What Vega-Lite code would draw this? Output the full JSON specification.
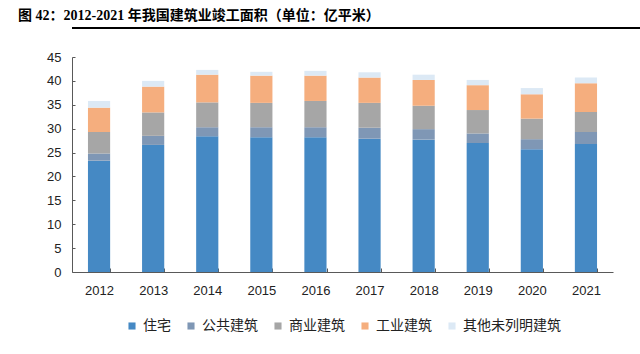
{
  "$schema": "https://vega.github.io/schema/vega-lite/v6.json",
  "padding": {"left": 18, "top": 9, "right": 0, "bottom": 0},
  "background": "white",
  "title": {
    "text": "图 42：2012-2021 年我国建筑业竣工面积（单位：亿平米）",
    "anchor": "start",
    "font": "Liberation Serif, Noto Sans CJK SC",
    "fontSize": 14,
    "fontWeight": "bold",
    "color": "#000000",
    "offset": -14
  },
  "align": "none",
  "bounds": "full",
  "spacing": 22,
  "config": {
    "font": "Liberation Sans, Noto Sans CJK SC"
  },
  "vconcat": [
    {
      "width": 622,
      "height": 19,
      "data": {"values": [{}]},
      "mark": {"type": "rule", "color": "#000000", "strokeWidth": 2},
      "encoding": {
        "y": {"datum": 0, "type": "quantitative", "scale": {"domain": [0, 1]}, "axis": null}
      },
      "view": {"stroke": null}
    },
    {
      "width": 541,
      "height": 215,
      "view": {"stroke": null},
      "data": {
        "values": [
          {"year": "2012", "type": "住宅", "value": 23.3},
          {"year": "2012", "type": "公共建筑", "value": 1.5},
          {"year": "2012", "type": "商业建筑", "value": 4.5},
          {"year": "2012", "type": "工业建筑", "value": 5.1},
          {"year": "2012", "type": "其他未列明建筑", "value": 1.4},
          {"year": "2013", "type": "住宅", "value": 26.6},
          {"year": "2013", "type": "公共建筑", "value": 1.9},
          {"year": "2013", "type": "商业建筑", "value": 4.9},
          {"year": "2013", "type": "工业建筑", "value": 5.4},
          {"year": "2013", "type": "其他未列明建筑", "value": 1.2},
          {"year": "2014", "type": "住宅", "value": 28.4},
          {"year": "2014", "type": "公共建筑", "value": 1.9},
          {"year": "2014", "type": "商业建筑", "value": 5.2},
          {"year": "2014", "type": "工业建筑", "value": 5.8},
          {"year": "2014", "type": "其他未列明建筑", "value": 1.0},
          {"year": "2015", "type": "住宅", "value": 28.2},
          {"year": "2015", "type": "公共建筑", "value": 2.1},
          {"year": "2015", "type": "商业建筑", "value": 5.1},
          {"year": "2015", "type": "工业建筑", "value": 5.7},
          {"year": "2015", "type": "其他未列明建筑", "value": 0.8},
          {"year": "2016", "type": "住宅", "value": 28.2},
          {"year": "2016", "type": "公共建筑", "value": 2.1},
          {"year": "2016", "type": "商业建筑", "value": 5.5},
          {"year": "2016", "type": "工业建筑", "value": 5.3},
          {"year": "2016", "type": "其他未列明建筑", "value": 1.0},
          {"year": "2017", "type": "住宅", "value": 27.9},
          {"year": "2017", "type": "公共建筑", "value": 2.3},
          {"year": "2017", "type": "商业建筑", "value": 5.2},
          {"year": "2017", "type": "工业建筑", "value": 5.3},
          {"year": "2017", "type": "其他未列明建筑", "value": 1.1},
          {"year": "2018", "type": "住宅", "value": 27.7},
          {"year": "2018", "type": "公共建筑", "value": 2.2},
          {"year": "2018", "type": "商业建筑", "value": 4.9},
          {"year": "2018", "type": "工业建筑", "value": 5.4},
          {"year": "2018", "type": "其他未列明建筑", "value": 1.1},
          {"year": "2019", "type": "住宅", "value": 27.0},
          {"year": "2019", "type": "公共建筑", "value": 2.0},
          {"year": "2019", "type": "商业建筑", "value": 4.9},
          {"year": "2019", "type": "工业建筑", "value": 5.2},
          {"year": "2019", "type": "其他未列明建筑", "value": 1.1},
          {"year": "2020", "type": "住宅", "value": 25.7},
          {"year": "2020", "type": "公共建筑", "value": 2.1},
          {"year": "2020", "type": "商业建筑", "value": 4.3},
          {"year": "2020", "type": "工业建筑", "value": 5.1},
          {"year": "2020", "type": "其他未列明建筑", "value": 1.3},
          {"year": "2021", "type": "住宅", "value": 26.8},
          {"year": "2021", "type": "公共建筑", "value": 2.5},
          {"year": "2021", "type": "商业建筑", "value": 4.2},
          {"year": "2021", "type": "工业建筑", "value": 6.0},
          {"year": "2021", "type": "其他未列明建筑", "value": 1.2}
        ]
      },
      "transform": [
        {"calculate": "indexof(['住宅', '公共建筑', '商业建筑', '工业建筑', '其他未列明建筑'], datum.type)", "as": "stackOrder"}
      ],
      "mark": {"type": "bar"},
      "encoding": {
        "x": {
          "field": "year",
          "type": "ordinal",
          "scale": {"paddingInner": 0.59, "paddingOuter": 0.295},
          "axis": {
            "title": null,
            "labelAngle": 0,
            "labelFontSize": 13,
            "labelColor": "#222222",
            "labelPadding": 16,
            "domainColor": "#595959",
            "tickColor": "#595959",
            "tickBand": "extent",
            "tickSize": -4,
            "grid": false
          }
        },
        "y": {
          "field": "value",
          "type": "quantitative",
          "stack": "zero",
          "scale": {"domain": [0, 45], "nice": false},
          "axis": {
            "title": null,
            "values": [0, 5, 10, 15, 20, 25, 30, 35, 40, 45],
            "labelFontSize": 13,
            "labelColor": "#222222",
            "labelPadding": 14,
            "domainColor": "#595959",
            "tickColor": "#595959",
            "tickSize": -3,
            "grid": false,
            "minExtent": 54,
            "maxExtent": 54
          }
        },
        "order": {"field": "stackOrder", "type": "quantitative", "sort": "ascending"},
        "color": {
          "field": "type",
          "type": "nominal",
          "sort": ["住宅", "公共建筑", "商业建筑", "工业建筑", "其他未列明建筑"],
          "scale": {
            "domain": ["住宅", "公共建筑", "商业建筑", "工业建筑", "其他未列明建筑"],
            "range": ["#4589c4", "#7f97b5", "#a6a6a6", "#f5ae7e", "#dce9f5"]
          },
          "legend": {
            "title": null,
            "orient": "none",
            "legendX": 53,
            "legendY": 310,
            "direction": "horizontal",
            "symbolType": "square",
            "symbolSize": 50,
            "symbolStrokeWidth": 0,
            "labelFontSize": 14,
            "labelColor": "#222222",
            "columnPadding": 13,
            "labelOffset": 4
          }
        }
      }
    }
  ]
}
